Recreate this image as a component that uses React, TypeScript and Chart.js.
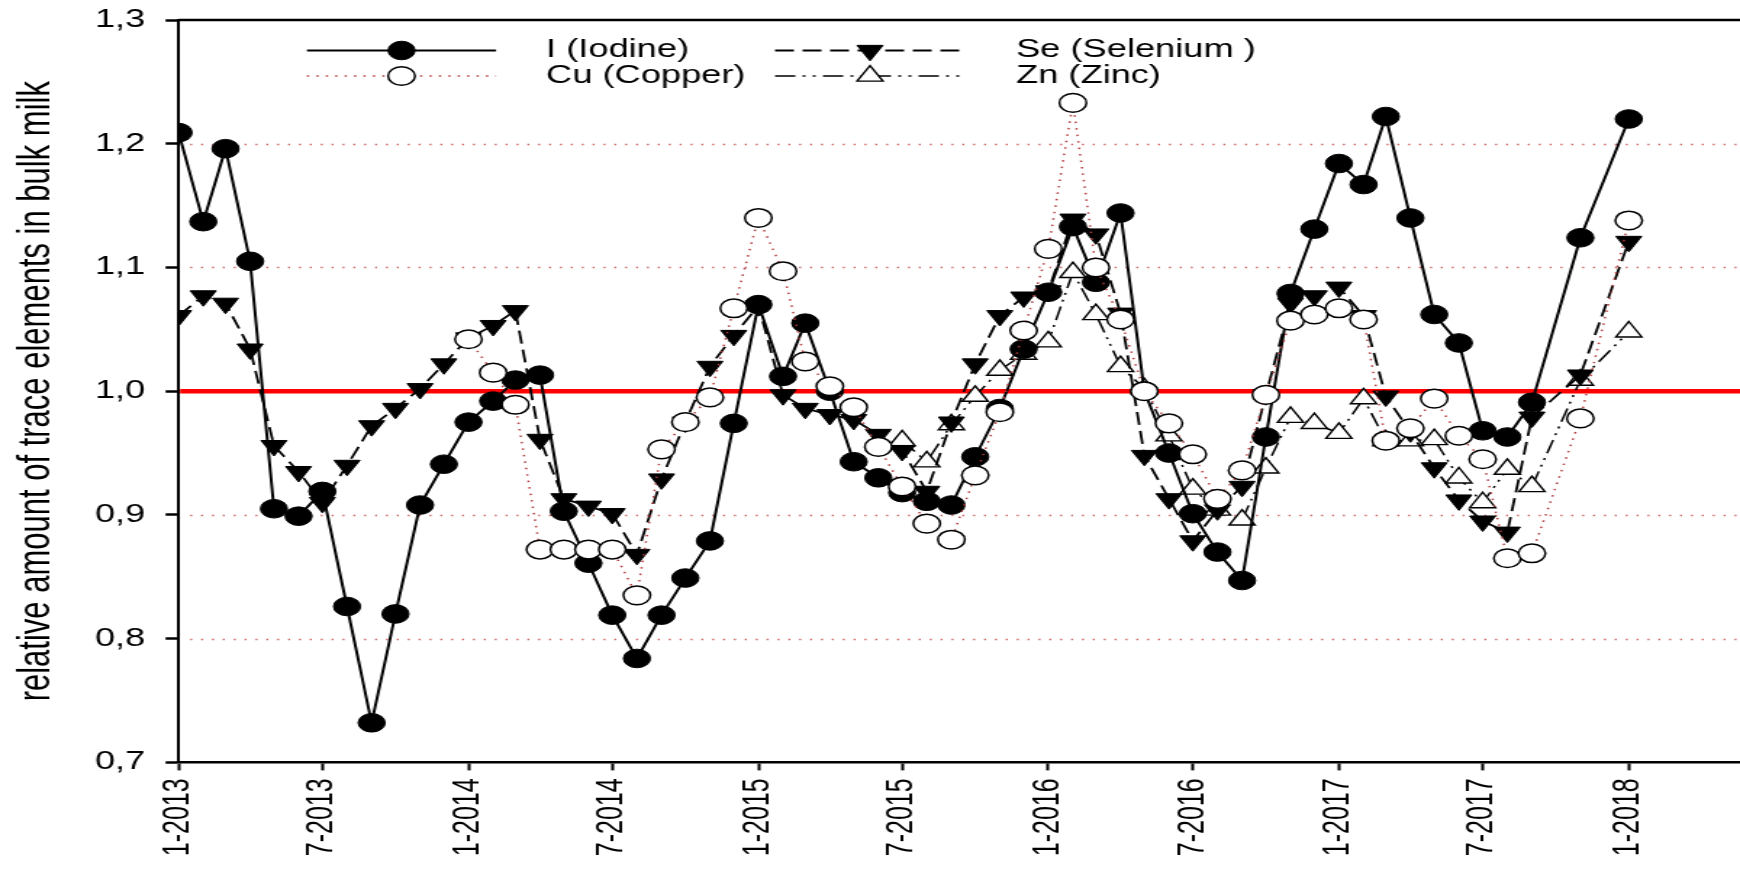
import React, { useEffect, useRef } from 'react';
import { Chart, registerables } from 'chart.js';

Chart.register(...registerables);

// ---------- data ----------
const MONTHS: string[] = [];
for (let i = 0; i < 61; i++) {
  const y = 2013 + Math.floor(i / 12);
  const m = (i % 12) + 1;
  MONTHS.push(`${y}-${String(m).padStart(2, '0')}`);
}

const TICK_LABELS = [
  '1-2013', '7-2013', '1-2014', '7-2014', '1-2015', '7-2015',
  '1-2016', '7-2016', '1-2017', '7-2017', '1-2018',
];

const Y_TICKS = [0.7, 0.8, 0.9, 1.0, 1.1, 1.2, 1.3];
const GRID_VALUES = [0.8, 0.9, 1.1, 1.2];
const REFERENCE_LEVEL = 1.0;

const IODINE = [
  1.209, 1.137, 1.196, 1.105, 0.905, 0.899, 0.919, 0.826, 0.732, 0.820, 0.908, 0.941,
  0.975, 0.992, 1.009, 1.013, 0.903, 0.861, 0.819, 0.784, 0.819, 0.849, 0.879, 0.974,
  1.070, 1.012, 1.055, 1.000, 0.943, 0.930, 0.918, 0.911, 0.908, 0.947, 0.986, 1.034,
  1.080, 1.133, 1.088, 1.144, 1.000, 0.950, 0.901, 0.870, 0.847, 0.963, 1.079, 1.131,
  1.184, 1.167, 1.222, 1.140, 1.062, 1.039, 0.968, 0.963, 0.991, null, 1.124, null,
  1.220,
];

const SELENIUM = [
  1.061, 1.077, 1.071, 1.034, 0.956, 0.935, 0.910, 0.940, 0.972, 0.986, 1.002, 1.022,
  1.043, 1.053, 1.065, 0.961, 0.913, 0.907, 0.901, 0.868, 0.929, 0.975, 1.020, 1.045,
  1.069, 0.997, 0.986, 0.981, 0.977, 0.965, 0.952, 0.919, 0.975, 1.022, 1.061, 1.076,
  1.081, 1.139, 1.127, 1.063, 0.948, 0.913, 0.879, 0.904, 0.923, 0.997, 1.071, 1.077,
  1.084, 1.061, 0.996, 0.967, 0.938, 0.912, 0.895, 0.886, 0.979, null, 1.013, null,
  1.121,
];

const COPPER = [
  null, null, null, null, null, null, null, null, null, null, null, null,
  1.042, 1.015, 0.989, 0.872, 0.872, 0.872, 0.872, 0.835, 0.953, 0.975, 0.995, 1.067,
  1.140, 1.097, 1.024, 1.004, 0.987, 0.955, 0.923, 0.893, 0.880, 0.932, 0.983, 1.049,
  1.115, 1.233, 1.100, 1.058, 1.000, 0.974, 0.949, 0.913, 0.936, 0.997, 1.057, 1.062,
  1.067, 1.058, 0.960, 0.970, 0.994, 0.964, 0.945, 0.865, 0.869, null, 0.978, null,
  1.138,
];

const ZINC = [
  null, null, null, null, null, null, null, null, null, null, null, null,
  null, null, null, null, null, null, null, null, null, null, null, null,
  null, null, null, null, null, null, 0.960, 0.943, 0.973, 0.996, 1.017, 1.030,
  1.040, 1.096, 1.062, 1.020, 1.002, 0.964, 0.921, 0.904, 0.896, 0.938, 0.979, 0.974,
  0.966, 0.994, 0.960, 0.960, 0.961, 0.930, 0.910, 0.937, 0.923, null, 1.009, null,
  1.048,
];

const SERIES_NAMES = ['I (Iodine)', 'Se (Selenium )', 'Cu (Copper)', 'Zn (Zinc)'];
const Y_TITLE = 'relative amount of trace elements in bulk milk';

// ---------- layout / style ----------
const STRETCH = 1.45;
const CANVAS_W = 1200;
const CANVAS_H = 869;
const FONT = '"Liberation Sans", Arial, Helvetica, sans-serif';
const X_MAX = '2018-05-21';

const DAY0 = Date.UTC(2013, 0, 1);
function dayOf(ym: string): number {
  const [y, m, d] = ym.split('-').map(Number);
  return (Date.UTC(y, m - 1, d || 1) - DAY0) / 86400000;
}
function tickDay(label: string): number {
  const [m, y] = label.split('-').map(Number);
  return (Date.UTC(y, m - 1, 1) - DAY0) / 86400000;
}
function toPoints(values: (number | null)[]) {
  return values.map((v, i) => ({ x: dayOf(MONTHS[i]), y: v }));
}

type Style = {
  color: string;
  dash: number[];
  width: number;
  point: 'circle' | 'triangle';
  rot: number;
  radius: number;
  fill: string;
  pointBorder: number;
};

const STYLES: Style[] = [
  { color: '#000', dash: [], width: 2, point: 'circle', rot: 0, radius: 9.3, fill: '#000', pointBorder: 1 },
  { color: '#000', dash: [13, 6], width: 1.8, point: 'triangle', rot: 180, radius: 10.3, fill: '#000', pointBorder: 1 },
  { color: '#b33a3a', dash: [1.5, 5], width: 1.5, point: 'circle', rot: 0, radius: 9.3, fill: '#fff', pointBorder: 1.5 },
  { color: '#000', dash: [14, 5, 2, 5, 2, 5], width: 1.5, point: 'triangle', rot: 0, radius: 10.3, fill: '#fff', pointBorder: 1.4 },
];
const ORDERS = [1, 2, 0, 3];

function drawMarker(ctx: CanvasRenderingContext2D, s: Style, x: number, y: number) {
  ctx.save();
  ctx.setLineDash([]);
  ctx.beginPath();
  if (s.point === 'circle') {
    ctx.arc(x, y, s.radius, 0, Math.PI * 2);
  } else {
    let rad = (s.rot * Math.PI) / 180;
    for (let k = 0; k < 3; k++) {
      const px = x + Math.sin(rad) * s.radius;
      const py = y - Math.cos(rad) * s.radius;
      if (k === 0) ctx.moveTo(px, py);
      else ctx.lineTo(px, py);
      rad += (2 * Math.PI) / 3;
    }
    ctx.closePath();
  }
  ctx.fillStyle = s.fill;
  ctx.fill();
  ctx.lineWidth = s.pointBorder;
  ctx.strokeStyle = '#000';
  ctx.stroke();
  ctx.restore();
}

const LEGEND_ROWS = [50.5, 76];
const LEGEND_COLS = [
  { x1: 211.7, x2: 342.1, text: 376.6 },
  { x1: 534.5, x2: 665.5, text: 700.7 },
];
const LEGEND_POS = [
  [0, 0],
  [0, 1],
  [1, 0],
  [1, 1],
];

const decorPlugin = {
  id: 'decor',
  beforeDatasetsDraw(chart: any) {
    const { ctx, chartArea, scales } = chart;
    const y = scales.y;
    ctx.save();
    ctx.strokeStyle = '#cc5a5a';
    ctx.lineWidth = 1.3;
    ctx.setLineDash([1.3, 6.2]);
    for (const v of GRID_VALUES) {
      const py = Math.round(y.getPixelForValue(v)) + 0.5;
      ctx.beginPath();
      ctx.moveTo(chartArea.left + 8, py);
      ctx.lineTo(chartArea.right, py);
      ctx.stroke();
    }
    ctx.setLineDash([]);
    ctx.strokeStyle = '#ff0000';
    ctx.lineWidth = 4.5;
    const ry = y.getPixelForValue(REFERENCE_LEVEL);
    ctx.beginPath();
    ctx.moveTo(chartArea.left + 1, ry);
    ctx.lineTo(chartArea.right, ry);
    ctx.stroke();
    ctx.restore();
  },
  afterDraw(chart: any) {
    const { ctx, chartArea } = chart;
    ctx.save();
    ctx.strokeStyle = '#000';
    ctx.lineWidth = 2.5;
    ctx.beginPath();
    ctx.moveTo(chartArea.left, chartArea.top);
    ctx.lineTo(chartArea.right, chartArea.top);
    ctx.stroke();
    ctx.font = `25px ${FONT}`;
    ctx.textBaseline = 'middle';
    ctx.textAlign = 'left';
    SERIES_NAMES.forEach((name, i) => {
      const s = STYLES[i];
      const [r, c] = LEGEND_POS[i];
      const col = LEGEND_COLS[c];
      const yy = LEGEND_ROWS[r];
      ctx.save();
      ctx.strokeStyle = s.color;
      ctx.lineWidth = s.width;
      ctx.setLineDash(s.dash);
      ctx.beginPath();
      ctx.moveTo(col.x1, yy);
      ctx.lineTo(col.x2, yy);
      ctx.stroke();
      ctx.restore();
      drawMarker(ctx, s, (col.x1 + col.x2) / 2, yy);
      ctx.fillStyle = '#000';
      ctx.fillText(name, col.text, yy);
    });
    ctx.restore();
  },
};

export default function App() {
  const ref = useRef<HTMLCanvasElement>(null);
  useEffect(() => {
    const series = [IODINE, SELENIUM, COPPER, ZINC];
    const chart = new Chart(ref.current as HTMLCanvasElement, {
      type: 'line',
      data: {
        datasets: series.map((vals, i) => {
          const s = STYLES[i];
          return {
            label: SERIES_NAMES[i],
            data: toPoints(vals) as any,
            order: ORDERS[i],
            borderColor: s.color,
            borderWidth: s.width,
            borderDash: s.dash,
            tension: 0,
            spanGaps: true,
            fill: false,
            pointStyle: s.point,
            pointRotation: s.rot,
            pointRadius: s.radius,
            pointHoverRadius: s.radius,
            pointBackgroundColor: s.fill,
            pointBorderColor: '#000',
            pointBorderWidth: s.pointBorder,
          };
        }),
      },
      options: {
        animation: false,
        responsive: false,
        devicePixelRatio: 1,
        events: [],
        layout: { autoPadding: false, padding: { top: 20, right: 0, bottom: 0, left: 0 } },
        plugins: {
          legend: { display: false },
          tooltip: { enabled: false },
        },
        scales: {
          x: {
            type: 'linear',
            min: 0,
            max: dayOf(X_MAX),
            afterBuildTicks: (scale: any) => {
              scale.ticks = TICK_LABELS.map((l) => ({ value: tickDay(l) }));
            },
            afterFit: (scale: any) => {
              scale.height = CANVAS_H - 762.4;
              scale.paddingLeft = 0;
              scale.paddingRight = 0;
            },
            grid: {
              drawOnChartArea: false,
              drawTicks: true,
              tickLength: 8,
              tickWidth: 2,
              tickColor: '#000',
            },
            border: { display: true, color: '#000', width: 2.5 },
            ticks: {
              autoSkip: false,
              minRotation: 90,
              maxRotation: 90,
              padding: 8,
              color: '#000',
              font: { family: FONT, size: 25 },
              callback: (_v: any, idx: number) => TICK_LABELS[idx],
            },
          },
          y: {
            type: 'linear',
            min: 0.7,
            max: 1.3,
            afterBuildTicks: (scale: any) => {
              scale.ticks = Y_TICKS.map((v) => ({ value: v }));
            },
            afterFit: (scale: any) => {
              scale.width = 123.2;
              scale.paddingTop = 0;
              scale.paddingBottom = 0;
            },
            grid: {
              drawOnChartArea: false,
              drawTicks: true,
              tickLength: 9,
              tickWidth: 2.5,
              tickColor: '#000',
            },
            border: { display: true, color: '#000', width: 2 },
            ticks: {
              padding: 14,
              color: '#000',
              font: { family: FONT, size: 25 },
              callback: (v: any) => Number(v).toFixed(1).replace('.', ','),
            },
            title: {
              display: true,
              text: Y_TITLE,
              color: '#000',
              font: { family: FONT, size: 31 },
              padding: { top: 7, bottom: 0 },
            },
          },
        },
      },
      plugins: [decorPlugin],
    } as any);
    return () => chart.destroy();
  }, []);

  return (
    <div
      style={{
        position: 'fixed',
        left: 0,
        top: 0,
        width: 1740,
        height: CANVAS_H,
        overflow: 'hidden',
        background: '#fff',
      }}
    >
      <div
        style={{
          width: CANVAS_W,
          height: CANVAS_H,
          transform: `scaleX(${STRETCH})`,
          transformOrigin: '0 0',
        }}
      >
        <canvas ref={ref} width={CANVAS_W} height={CANVAS_H} />
      </div>
    </div>
  );
}
